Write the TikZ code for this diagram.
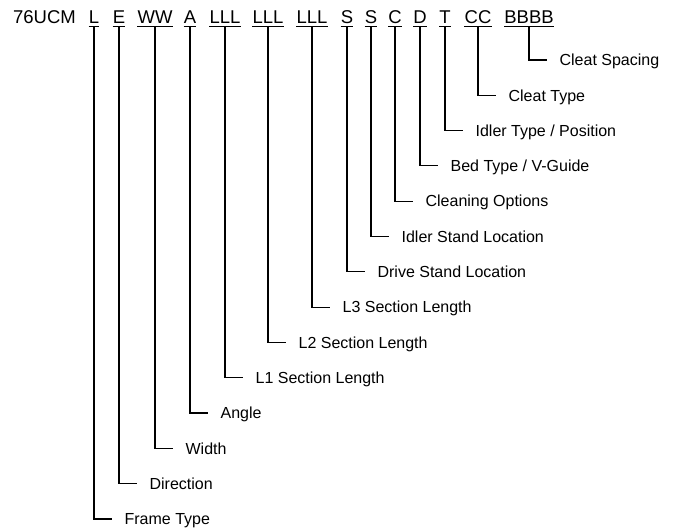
\documentclass[tikz,border=0pt]{standalone}
\usepackage{fontspec}
\setmainfont{Liberation Sans}
\usetikzlibrary{positioning}

\tikzset{code/.style={anchor=base, inner xsep=0.3pt, inner ysep=2.8pt, text depth=0pt, outer sep=0pt, font=\fontsize{18.5}{22}\selectfont},
         lbl/.style={anchor=west, inner sep=0pt, text height=11.5pt, text depth=0pt},
         wire/.style={shorten >=12.5pt}}

\begin{document}
\begin{tikzpicture}[x=1pt, y=-1pt, font=\fontsize{16}{19}\selectfont, line width=1.2pt]
\useasboundingbox (0,0) rectangle (679,529);

\node[anchor=base west, inner sep=0pt, font=\fontsize{18.5}{22}\selectfont] (model) at (12.5,24) {76UCM};
\node[code] (l) at (94,24) {L};
\node[code] (e) at (119,24) {E};
\node[code] (ww) at (155,24) {WW};
\node[code] (a) at (190,24) {A};
\node[code] (lone) at (225,24) {LLL};
\node[code] (ltwo) at (268,24) {LLL};
\node[code] (lthree) at (312,24) {LLL};
\node[code] (sone) at (347,24) {S};
\node[code] (stwo) at (371,24) {S};
\node[code] (c) at (395,24) {C};
\node[code] (d) at (420,24) {D};
\node[code] (t) at (445,24) {T};
\node[code] (cc) at (478,24) {CC};
\node[code] (bbbb) at (529,24) {BBBB};

\node[lbl] (spacing) at (559,60) {Cleat Spacing};
\node[lbl] (cleat) at (508,95.3) {Cleat Type};
\node[lbl] (idler) at (475,130.6) {Idler Type / Position};
\node[lbl] (bed) at (450,165.9) {Bed Type / V-Guide};
\node[lbl] (cleaning) at (425,201.2) {Cleaning Options};
\node[lbl] (idlerstand) at (401,236.5) {Idler Stand Location};
\node[lbl] (drivestand) at (377,271.8) {Drive Stand Location};
\node[lbl] (lthreelen) at (342,307.1) {L3 Section Length};
\node[lbl] (ltwolen) at (298,342.4) {L2 Section Length};
\node[lbl] (lonelen) at (255,377.7) {L1 Section Length};
\node[lbl] (angle) at (220,413) {Angle};
\node[lbl] (width) at (185,448.3) {Width};
\node[lbl] (direction) at (149,483.6) {Direction};
\node[lbl] (frame) at (124,519) {Frame Type};

% underlines
\draw (l.south west) -- (l.south east);
\draw (e.south west) -- (e.south east);
\draw (ww.south west) -- (ww.south east);
\draw (a.south west) -- (a.south east);
\draw (lone.south west) -- (lone.south east);
\draw (ltwo.south west) -- (ltwo.south east);
\draw (lthree.south west) -- (lthree.south east);
\draw (sone.south west) -- (sone.south east);
\draw (stwo.south west) -- (stwo.south east);
\draw (c.south west) -- (c.south east);
\draw (d.south west) -- (d.south east);
\draw (t.south west) -- (t.south east);
\draw (cc.south west) -- (cc.south east);
\draw (bbbb.south west) -- (bbbb.south east);

% leaders
\draw[wire] (l.south) |- (frame.west);
\draw[wire] (e.south) |- (direction.west);
\draw[wire] (ww.south) |- (width.west);
\draw[wire] (a.south) |- (angle.west);
\draw[wire] (lone.south) |- (lonelen.west);
\draw[wire] (ltwo.south) |- (ltwolen.west);
\draw[wire] (lthree.south) |- (lthreelen.west);
\draw[wire] (sone.south) |- (drivestand.west);
\draw[wire] (stwo.south) |- (idlerstand.west);
\draw[wire] (c.south) |- (cleaning.west);
\draw[wire] (d.south) |- (bed.west);
\draw[wire] (t.south) |- (idler.west);
\draw[wire] (cc.south) |- (cleat.west);
\draw[wire] (bbbb.south) |- (spacing.west);
\end{tikzpicture}
\end{document}
